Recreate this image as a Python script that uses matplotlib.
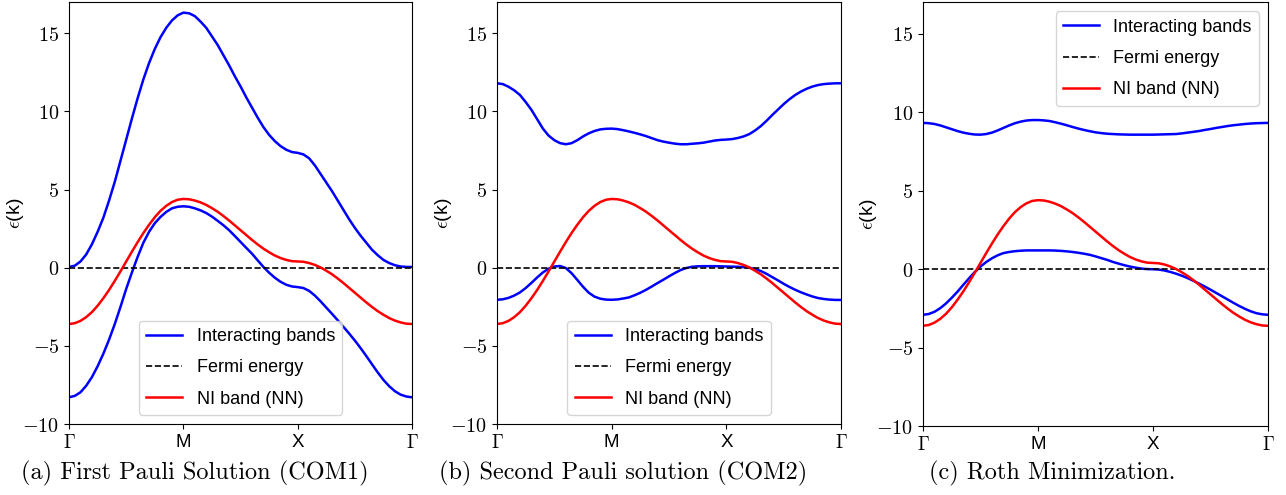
import numpy as np
import matplotlib
matplotlib.use("Agg")
import matplotlib.pyplot as plt

plt.rcParams['font.family'] = ['Liberation Sans', 'DejaVu Sans']
plt.rcParams['mathtext.fontset'] = 'cm'

# k-path Γ -> M -> X -> Γ, 20 steps per segment
k_path = np.linspace(0, 3, 61)
k_ticks = [0, 1, 2, 3]
k_labels = [r'$\Gamma$', 'M', 'X', r'$\Gamma$']
y_ticks = [-10, -5, 0, 5, 10, 15]

# non-interacting NN band (same in all panels)
ni_band = [-3.60, -3.55, -3.40, -3.16, -2.84, -2.43, -1.95, -1.42, -0.84, -0.23, 0.40,
           1.03, 1.64, 2.22, 2.75, 3.23, 3.64, 3.96, 4.20, 4.35, 4.40,
           4.38, 4.30, 4.18, 4.02, 3.81, 3.58, 3.31, 3.02, 2.71, 2.40,
           2.09, 1.78, 1.49, 1.22, 0.99, 0.78, 0.62, 0.50, 0.42, 0.40,
           0.38, 0.30, 0.18, 0.02, -0.19, -0.42, -0.69, -0.98, -1.29, -1.60,
           -1.91, -2.22, -2.51, -2.78, -3.01, -3.22, -3.38, -3.50, -3.58, -3.60]

# (a) COM1
com1_upper = [0.05, 0.13, 0.40, 0.85, 1.50, 2.30, 3.20, 4.30, 5.50, 6.85, 8.20,
              9.55, 10.85, 12.05, 13.10, 14.00, 14.75, 15.35, 15.82, 16.15, 16.32,
              16.28, 16.10, 15.75, 15.35, 14.80, 14.25, 13.60, 12.95, 12.25, 11.60,
              10.90, 10.25, 9.60, 9.00, 8.50, 8.10, 7.78, 7.55, 7.40, 7.35,
              7.25, 7.00, 6.55, 6.00, 5.45, 4.90, 4.30, 3.70, 3.10, 2.55,
              2.05, 1.60, 1.15, 0.80, 0.50, 0.30, 0.16, 0.08, 0.05, 0.05]
com1_lower = [-8.29, -8.20, -7.97, -7.55, -7.00, -6.30, -5.50, -4.60, -3.60, -2.50, -1.35,
              -0.30, 0.70, 1.60, 2.30, 2.85, 3.25, 3.57, 3.80, 3.90, 3.93,
              3.90, 3.80, 3.67, 3.50, 3.27, 3.00, 2.72, 2.40, 2.03, 1.65,
              1.27, 0.90, 0.47, 0.05, -0.32, -0.64, -0.90, -1.09, -1.20, -1.24,
              -1.30, -1.48, -1.78, -2.15, -2.55, -2.95, -3.36, -3.78, -4.21, -4.66,
              -5.14, -5.65, -6.18, -6.70, -7.18, -7.58, -7.90, -8.12, -8.24, -8.29]

# (b) COM2
com2_upper = [11.80, 11.75, 11.58, 11.35, 11.05, 10.60, 10.10, 9.50, 8.90, 8.45, 8.16,
              7.97, 7.90, 7.97, 8.16, 8.40, 8.60, 8.75, 8.85, 8.89, 8.90,
              8.87, 8.80, 8.72, 8.63, 8.53, 8.42, 8.29, 8.16, 8.07, 8.00,
              7.94, 7.90, 7.90, 7.93, 7.96, 8.00, 8.07, 8.14, 8.18, 8.20,
              8.23, 8.30, 8.40, 8.55, 8.78, 9.06, 9.40, 9.77, 10.12, 10.47,
              10.78, 11.05, 11.27, 11.45, 11.59, 11.69, 11.75, 11.78, 11.80, 11.80]
com2_lower = [-2.05, -2.02, -1.93, -1.78, -1.58, -1.30, -0.97, -0.62, -0.30, -0.06, 0.08,
              0.11, -0.02, -0.35, -0.78, -1.22, -1.60, -1.85, -1.98, -2.04, -2.05,
              -2.03, -1.97, -1.90, -1.76, -1.60, -1.41, -1.20, -0.98, -0.77, -0.55,
              -0.34, -0.15, -0.02, 0.06, 0.09, 0.10, 0.10, 0.10, 0.09, 0.08,
              0.07, 0.06, 0.04, 0.00, -0.09, -0.21, -0.39, -0.60, -0.81, -1.03,
              -1.23, -1.41, -1.57, -1.71, -1.84, -1.94, -2.00, -2.04, -2.06, -2.06]

# (c) Roth
roth_upper = [9.32, 9.30, 9.25, 9.16, 9.04, 8.92, 8.80, 8.70, 8.63, 8.58, 8.57,
              8.61, 8.70, 8.84, 9.00, 9.16, 9.30, 9.40, 9.47, 9.50, 9.50,
              9.48, 9.44, 9.36, 9.27, 9.17, 9.06, 8.96, 8.87, 8.79, 8.72,
              8.67, 8.63, 8.61, 8.59, 8.58, 8.57, 8.57, 8.57, 8.57, 8.57,
              8.58, 8.59, 8.60, 8.61, 8.65, 8.70, 8.75, 8.80, 8.87, 8.93,
              9.00, 9.06, 9.12, 9.17, 9.21, 9.25, 9.28, 9.30, 9.31, 9.32]
roth_lower = [-2.90, -2.85, -2.71, -2.48, -2.18, -1.82, -1.43, -1.00, -0.58, -0.18, 0.17,
              0.46, 0.70, 0.89, 1.03, 1.10, 1.15, 1.18, 1.20, 1.20, 1.20,
              1.20, 1.20, 1.19, 1.17, 1.14, 1.10, 1.05, 0.99, 0.92, 0.82,
              0.71, 0.60, 0.47, 0.36, 0.26, 0.17, 0.10, 0.04, 0.01, 0.00,
              -0.02, -0.08, -0.17, -0.28, -0.41, -0.56, -0.73, -0.91, -1.10, -1.30,
              -1.51, -1.72, -1.93, -2.14, -2.34, -2.52, -2.68, -2.80, -2.87, -2.90]

panels = [
    (com1_upper, com1_lower, '(a) First Pauli Solution (COM1)', 'lower center'),
    (com2_upper, com2_lower, '(b) Second Pauli solution (COM2)', 'lower center'),
    (roth_upper, roth_lower, '(c) Roth Minimization.', 'upper right'),
]
ax_rects = [[0.0537, 0.1434, 0.2667, 0.8525],
            [0.3865, 0.1434, 0.2675, 0.8525],
            [0.7177, 0.1388, 0.2683, 0.8566]]
caption_x = [0.1516, 0.4844, 0.818]

fig = plt.figure(figsize=(12.86, 4.95), dpi=100)

for (upper, lower, caption, loc), rect, cx in zip(panels, ax_rects, caption_x):
    ax = fig.add_axes(rect)
    ax.plot(k_path, upper, color='blue', lw=1.8, label='Interacting bands')
    ax.plot(k_path, lower, color='blue', lw=1.8)
    ax.axhline(0, color='black', ls='--', lw=1.2, label='Fermi energy')
    ax.plot(k_path, ni_band, color='red', lw=1.8, label='NI band (NN)')
    ax.set_xlim(0, 3)
    ax.set_ylim(-10, 17)
    ax.set_xticks(k_ticks)
    ax.set_xticklabels(k_labels, fontsize=13.5)
    ax.set_yticks(y_ticks)
    ax.set_yticklabels([r'$%d$' % v for v in y_ticks], fontsize=14.5)
    ax.set_ylabel(r'$\epsilon$(k)', fontsize=14)
    ax.yaxis.set_label_coords(-0.126, 0.5)
    ax.legend(loc=loc, fontsize=13, labelspacing=0.8)
    fig.text(cx, 0.044, caption, ha='center', va='center',
             fontsize=17.5, family='cmr10')

plt.savefig('out.png', dpi=100)
